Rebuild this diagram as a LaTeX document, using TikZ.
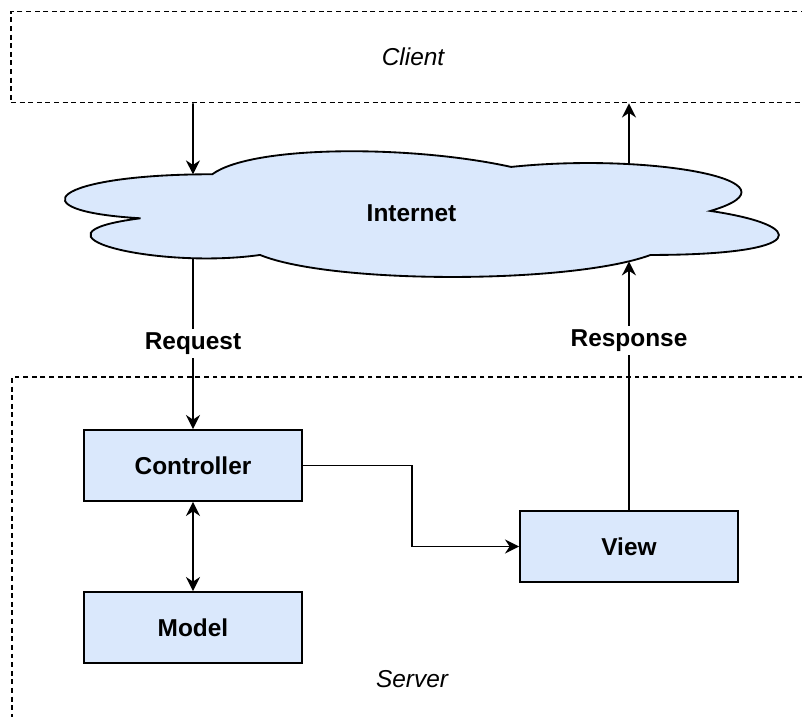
\documentclass[tikz,border=0pt]{standalone}
\usepackage{fontspec}
\setmainfont{Liberation Sans}
\usetikzlibrary{arrows.meta,intersections}
\definecolor{boxblue}{HTML}{DAE8FC}
\newcommand{\diagfont}{\fontsize{13.9}{16}\selectfont}

\begin{document}
\begin{tikzpicture}[
    line width=0.9pt,
    >={Stealth[length=8pt,width=8pt,inset=2.6pt]},
    box/.style={draw, fill=boxblue, line width=1.05pt, minimum width=4.36cm, minimum height=1.42cm, font=\diagfont\bfseries},
    zone/.style={draw, line width=1.05pt, dash pattern=on 2.8pt off 2.1pt, inner sep=0pt, font=\diagfont\itshape},
    tag/.style={fill=white, inner sep=2pt, font=\diagfont\bfseries}
  ]
  \useasboundingbox (0,0) rectangle (16.04,14.34);
  % client and server zones
  \node [zone, minimum width=16.08cm, minimum height=1.82cm] (client) at (8.26,13.2) {Client};
  \node [zone, minimum width=16.08cm, minimum height=7.6cm, anchor=north west] (server) at (0.22,6.82) {};
  \node [font=\diagfont\itshape] (serverlbl) at (8.24,0.75) {Server};
  % internet cloud
  \begin{scope}[shift={(0.26,11.588)}, x=15.94cm, y=-2.934cm]
    \draw [fill=boxblue, line width=1.05pt, name path global=cloudedge] (0.25,0.25)
      .. controls (0.05,0.25) and (0,0.5) .. (0.16,0.55)
      .. controls (0,0.66) and (0.18,0.9) .. (0.31,0.8)
      .. controls (0.4,1) and (0.7,1) .. (0.8,0.8)
      .. controls (1,0.8) and (1,0.6) .. (0.875,0.5)
      .. controls (1,0.3) and (0.8,0.1) .. (0.625,0.2)
      .. controls (0.5,0.05) and (0.3,0.05) .. (0.25,0.25) -- cycle;
  \end{scope}
  \node [font=\diagfont\bfseries] (internet) at (8.23,10.08) {Internet};
  % mvc boxes
  \node [box] (controller) at (3.86,5.03) {Controller};
  \node [box] (model) at (3.86,1.79) {Model};
  \node [box] (view) at (12.58,3.41) {View};
  % where the lines meet the cloud
  \path [name path=reqline] (controller.north) -- (controller.north |- client.south);
  \path [name path=resline] (view.north) -- (view.north |- client.south);
  \path [name intersections={of=cloudedge and reqline, sort by=reqline, by={reqout,reqin}}];
  \path [name intersections={of=cloudedge and resline, sort by=resline, by={resin,resout}}];
  % connectors
  \draw [->] (client.south -| controller) -- (reqin);
  \draw [->] (reqout) -- node [tag, pos=0.5] {Request} (controller.north);
  \draw [->] (view.north) -- node [tag, pos=0.68] {Response} (resin);
  \draw [->] (resout) -- (client.south -| view);
  \draw [<->] (controller) -- (model);
  \draw [->] (controller.east) -- ++(2.18,0) |- (view.west);
\end{tikzpicture}
\end{document}
